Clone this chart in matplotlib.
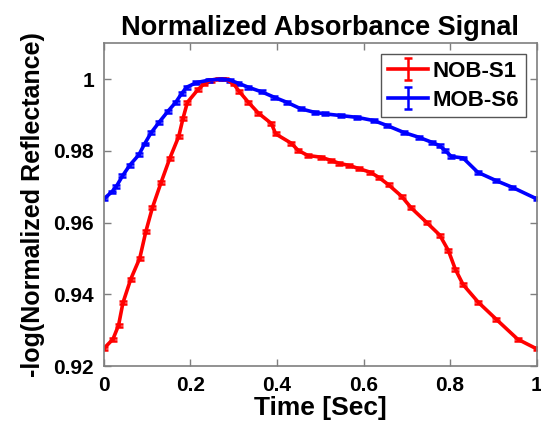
import matplotlib
matplotlib.use("agg")
import matplotlib.pyplot as plt
import numpy as np

# NOB-S1 (red)
nob_time = [0.0, 0.021, 0.034, 0.044, 0.062, 0.083, 0.097, 0.112, 0.132, 0.152,
            0.173, 0.183, 0.193, 0.217, 0.231, 0.247, 0.265, 0.281, 0.300, 0.313,
            0.334, 0.357, 0.387, 0.397, 0.433, 0.449, 0.471, 0.502, 0.525, 0.544,
            0.567, 0.590, 0.616, 0.635, 0.658, 0.688, 0.710, 0.746, 0.776, 0.796,
            0.812, 0.830, 0.865, 0.907, 0.956, 1.0]
nob_signal = [0.9249, 0.9275, 0.9314, 0.9376, 0.9442, 0.9501, 0.9575, 0.9641, 0.9711, 0.9778,
              0.9840, 0.9891, 0.9935, 0.9970, 0.9986, 0.9997, 1.0000, 1.0000, 0.9986, 0.9965,
              0.9935, 0.9905, 0.9876, 0.9847, 0.9821, 0.9801, 0.9787, 0.9782, 0.9773, 0.9765,
              0.9759, 0.9750, 0.9740, 0.9726, 0.9705, 0.9673, 0.9641, 0.9600, 0.9565, 0.9522,
              0.9470, 0.9427, 0.9378, 0.9330, 0.9275, 0.9248]

# MOB-S6 (blue)
mob_time = [0.0, 0.018, 0.029, 0.043, 0.060, 0.081, 0.094, 0.109, 0.128, 0.148,
            0.166, 0.180, 0.191, 0.214, 0.243, 0.273, 0.291, 0.311, 0.334, 0.365,
            0.394, 0.423, 0.455, 0.487, 0.510, 0.548, 0.586, 0.624, 0.655, 0.693,
            0.727, 0.757, 0.776, 0.788, 0.803, 0.830, 0.864, 0.906, 0.944, 1.0]
mob_signal = [0.9666, 0.9685, 0.9701, 0.9730, 0.9760, 0.9789, 0.9819, 0.9850, 0.9880, 0.9910,
              0.9935, 0.9960, 0.9977, 0.9990, 0.9997, 1.0000, 0.9997, 0.9988, 0.9977, 0.9964,
              0.9949, 0.9935, 0.9917, 0.9907, 0.9903, 0.9898, 0.9893, 0.9884, 0.9870, 0.9851,
              0.9838, 0.9824, 0.9814, 0.9801, 0.9784, 0.9780, 0.9740, 0.9717, 0.9698, 0.9666]

signal_err = 0.0004

plt.rcParams['font.family'] = ['Liberation Sans', 'DejaVu Sans']
plt.rcParams['font.weight'] = 'bold'

fig = plt.figure(figsize=(5.41, 4.40), dpi=100)
ax = fig.add_axes([0.192, 0.168, 0.800, 0.734])

ax.errorbar(nob_time, nob_signal, yerr=signal_err, color='red', lw=2.6,
            elinewidth=1.8, capsize=3, capthick=1.8, label='NOB-S1')
ax.errorbar(mob_time, mob_signal, yerr=signal_err, color='blue', lw=2.6,
            elinewidth=1.8, capsize=3, capthick=1.8, label='MOB-S6')

ax.set_xlim(0, 1)
ax.set_ylim(0.92, 1.01)
ax.set_xticks([0, 0.2, 0.4, 0.6, 0.8, 1])
ax.set_xticklabels(['0', '0.2', '0.4', '0.6', '0.8', '1'])
ax.set_yticks([0.92, 0.94, 0.96, 0.98, 1.0])
ax.set_yticklabels(['0.92', '0.94', '0.96', '0.98', '1'])

for spine in ax.spines.values():
    spine.set_color('#7f7f7f')
    spine.set_linewidth(1.2)
ax.tick_params(direction='in', top=True, right=True, length=5, width=1,
               color='#7f7f7f', labelsize=15, labelcolor='black', pad=7)

ax.set_title('Normalized Absorbance Signal', fontsize=19.5, fontweight='bold', pad=6)
ax.set_xlabel('Time [Sec]', fontsize=19, fontweight='bold', labelpad=1)
ax.set_ylabel('-log(Normalized Reflectance)', fontsize=18, fontweight='bold', labelpad=6)

leg = ax.legend(loc='upper right', fontsize=16, fancybox=False, framealpha=1,
                edgecolor='#555555', borderaxespad=0.5, handlelength=1.8,
                handletextpad=0.2, borderpad=0.3, labelspacing=0.35)
leg.get_frame().set_linewidth(1.0)

fig.savefig('out.png', dpi=100)
